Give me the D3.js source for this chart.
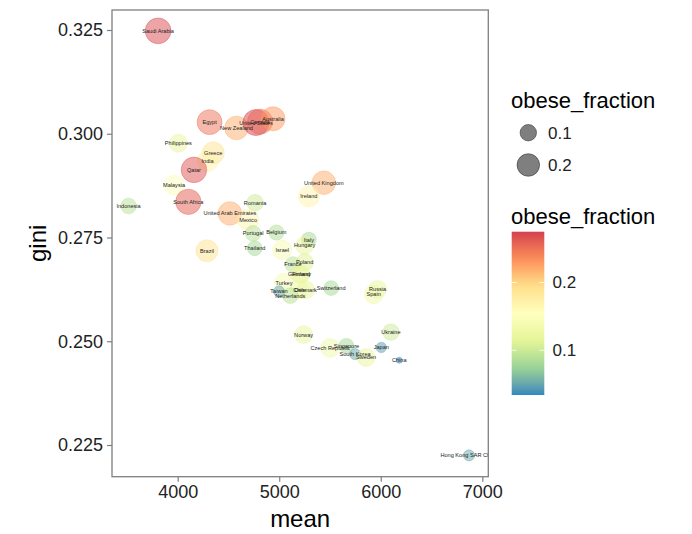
<!DOCTYPE html>
<html><head><meta charset="utf-8">
<script src="https://cdn.jsdelivr.net/npm/d3@7"></script>
<style>
body{margin:0;background:#fff}
text{font-family:"Liberation Sans",Arial,Helvetica,sans-serif}
</style>
</head><body>
<svg id="chart" width="692" height="534"></svg>
<script>
const countries = ["Saudi Arabia","Egypt","New Zealand","United States","Canada","Australia","Philippines","Greece","India","Qatar","Malaysia","South Africa","Indonesia","Romania","United Arab Emirates","Mexico","Portugal","Belgium","Thailand","Brazil","Israel","Italy","Hungary","United Kingdom","Ireland","France","Poland","Germany","Finland","Turkey","Chile","Denmark","Switzerland","Taiwan","Netherlands","Russia","Spain","Norway","Ukraine","Czech Republic","Singapore","South Korea","Sweden","Japan","China","Hong Kong SAR China"];
const meanValues = [3807,4314,4579,4771,4811,4939,4007,4350,4294,4160,3964,4105,3516,4762,4514,4694,4743,4972,4759,4288,5030,5292,5250,5439,5292,5135,5250,5200,5215,5047,5200,5259,5511,4998,5109,5969,5930,5240,6100,5501,5662,5747,5855,6005,6182,6869];
const giniValues = [0.3248,0.3028,0.3014,0.3027,0.3029,0.3036,0.2977,0.2954,0.2934,0.2913,0.2876,0.2836,0.2826,0.2834,0.2808,0.2793,0.2760,0.2762,0.2724,0.2718,0.2720,0.2745,0.2731,0.2882,0.2849,0.2685,0.2690,0.2661,0.2661,0.2641,0.2624,0.2624,0.2628,0.2620,0.2610,0.2625,0.2613,0.2516,0.2522,0.2484,0.2489,0.2469,0.2461,0.2485,0.2454,0.2225];
const obeseValues = [0.27,0.25,0.22,0.275,0.255,0.23,0.12,0.19,0.17,0.265,0.15,0.26,0.09,0.10,0.22,0.17,0.09,0.085,0.08,0.19,0.14,0.08,0.12,0.22,0.17,0.09,0.11,0.12,0.12,0.14,0.13,0.12,0.08,0.05,0.09,0.12,0.13,0.12,0.10,0.13,0.08,0.05,0.12,0.045,0.034,0.05];
const xTicks = [4000,5000,6000,7000];
const yTicks = [0.225,0.250,0.275,0.300,0.325];
const sizeLegendValues = [0.1,0.2];
const colorLegendTicks = [0.1,0.2];
const spectral = ["#3288bd","#99d594","#e6f598","#ffffbf","#fee08b","#fc8d59","#d53e4f"];

const data = countries.map((c,i)=>({name:c, mean:meanValues[i], gini:giniValues[i], obese:obeseValues[i]}));
const svg = d3.select("#chart");
const P = {l:112, r:488.3, t:10, b:476.7};

const x = d3.scaleLinear().domain([3353,7059]).range([P.l,P.r]);
const y = d3.scaleLinear().domain([0.21736,0.32982]).range([P.b,P.t]);
const oMin = d3.min(obeseValues), oMax = d3.max(obeseValues);
const norm = d3.scaleLinear().domain([oMin,oMax]).range([0,1]);
const rScale = d3.scaleSqrt().domain([0,1]).range([3,13]);
const r = v => rScale(Math.max(0,norm(v)));
const color = d3.scaleSequential(d3.piecewise(d3.interpolateLab, spectral)).domain([oMin,oMax]);

svg.append("defs").append("clipPath").attr("id","clip")
  .append("rect").attr("x",P.l).attr("y",P.t).attr("width",P.r-P.l).attr("height",P.b-P.t);

const panel = svg.append("g").attr("clip-path","url(#clip)");
panel.selectAll("circle").data(data).join("circle")
  .attr("cx",d=>x(d.mean)).attr("cy",d=>y(d.gini)).attr("r",d=>r(d.obese))
  .attr("fill",d=>color(d.obese)).attr("fill-opacity",0.5)
  .attr("stroke",d=>color(d.obese)).attr("stroke-opacity",0.5).attr("stroke-width",0.8);
panel.selectAll("text").data(data).join("text")
  .attr("x",d=>x(d.mean)).attr("y",d=>y(d.gini)).attr("dy","0.35em")
  .attr("text-anchor","middle").attr("font-size",5.6).attr("fill","#222")
  .text(d=>d.name);

// axes
const xAxis = d3.axisBottom(x).tickValues(xTicks).tickSize(5).tickPadding(4).tickFormat(d3.format("d"));
const gx = svg.append("g").attr("transform",`translate(0,${P.b})`).call(xAxis);
const yAxis = d3.axisLeft(y).tickValues(yTicks).tickSize(5).tickPadding(4).tickFormat(d3.format(".3f"));
const gy = svg.append("g").attr("transform",`translate(${P.l},0)`).call(yAxis);
[gx,gy].forEach(g=>{
  g.select(".domain").remove();
  g.selectAll(".tick line").attr("stroke","#7f7f7f").attr("stroke-width",1.2);
  g.selectAll(".tick text").attr("font-size",18).attr("fill","#222").attr("font-family","Liberation Sans, Arial, sans-serif");
});
svg.append("rect").attr("x",P.l).attr("y",P.t).attr("width",P.r-P.l).attr("height",P.b-P.t)
  .attr("fill","none").attr("stroke","#7f7f7f").attr("stroke-width",1.3);

svg.append("text").attr("x",(P.l+P.r)/2).attr("y",527).attr("text-anchor","middle")
  .attr("font-size",24).attr("fill","#000").text("mean");
svg.append("text").attr("transform",`translate(46,${(P.t+P.b)/2}) rotate(-90)`).attr("text-anchor","middle")
  .attr("font-size",24).attr("fill","#000").text("gini");

// size legend
const lg = svg.append("g");
lg.append("text").attr("x",511).attr("y",108).attr("font-size",22).attr("fill","#000").text("obese_fraction");
sizeLegendValues.forEach((v,i)=>{
  const cy = 132.7 + i*32.3;
  lg.append("circle").attr("cx",528.3).attr("cy",cy).attr("r",r(v))
    .attr("fill","#000").attr("fill-opacity",0.5).attr("stroke","#000").attr("stroke-opacity",0.5).attr("stroke-width",0.8);
  lg.append("text").attr("x",548).attr("y",cy).attr("dy","0.35em").attr("font-size",17).attr("fill","#222").text(d3.format(".1f")(v));
});

// color legend
lg.append("text").attr("x",511).attr("y",224).attr("font-size",22).attr("fill","#000").text("obese_fraction");
const barTop = 231.7, barBot = 395, barL = 511.7, barW = 32.6;
const cbar = d3.scaleLinear().domain([oMin,oMax]).range([barBot,barTop]);
const grad = svg.select("defs").append("linearGradient").attr("id","cg").attr("x1",0).attr("y1",1).attr("x2",0).attr("y2",0);
d3.range(0,1.0001,0.05).forEach(t=>{
  grad.append("stop").attr("offset",t).attr("stop-color",color(oMin+t*(oMax-oMin)));
});
lg.append("rect").attr("x",barL).attr("y",barTop).attr("width",barW).attr("height",barBot-barTop).attr("fill","url(#cg)");
colorLegendTicks.forEach(v=>{
  const yy = cbar(v);
  lg.append("line").attr("x1",barL).attr("x2",barL+5).attr("y1",yy).attr("y2",yy).attr("stroke","#fff").attr("stroke-width",0.8);
  lg.append("line").attr("x1",barL+barW-5).attr("x2",barL+barW).attr("y1",yy).attr("y2",yy).attr("stroke","#fff").attr("stroke-width",0.8);
  lg.append("text").attr("x",552.5).attr("y",yy).attr("dy","0.35em").attr("font-size",17).attr("fill","#222").text(d3.format(".1f")(v));
});
</script>
</body></html>
